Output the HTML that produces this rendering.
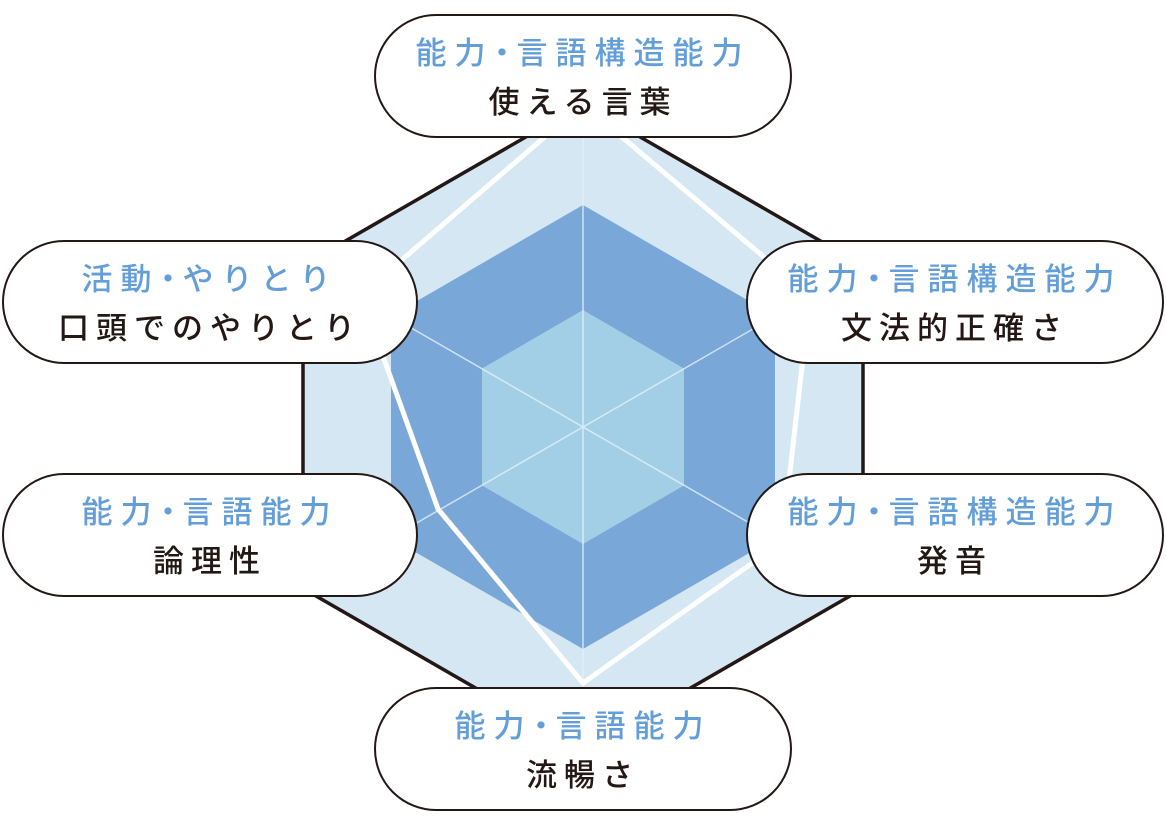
<!DOCTYPE html>
<html><head><meta charset="utf-8"><style>
body{margin:0;width:1166px;height:828px;background:#fff;overflow:hidden;position:relative;font-family:"Liberation Sans","Noto Sans CJK JP",sans-serif}
.p{position:absolute;box-sizing:border-box;border:2px solid #231815;border-radius:62px;background:#fff;text-align:center}
.p .b{position:absolute;left:0;right:0;top:18px;color:#639ed8;font-size:31px;line-height:40px;letter-spacing:8px;font-weight:500}
.p .k{position:absolute;left:0;right:0;top:67px;color:#231815;font-size:31px;line-height:40px;letter-spacing:7px;font-weight:500}
.d{margin:0 -9px 0 -7px}
</style></head><body>
<svg width="1166" height="828" style="position:absolute;left:0;top:0">
<polygon points="583,104 863,265.5 863,588.5 583,750 303,588.5 303,265.5" fill="#d4e7f2" stroke="#231815" stroke-width="3.5"/>
<polygon points="583,205 775,316 775,538 583,649 391,538 391,316" fill="#78a7d8"/>
<polygon points="583,310 684,368.5 684,485.5 583,544 482,485.5 482,368.5" fill="#a3cfe6"/>
<g stroke="#e6f1f8" stroke-width="1.5" opacity="0.8">
<line x1="583" y1="104" x2="583" y2="750"/>
<line x1="303" y1="265.5" x2="863" y2="588.5"/>
<line x1="863" y1="265.5" x2="303" y2="588.5"/>
</g>
<polygon points="583,104 810,296 782,542 583,683 438,509 361,295" fill="none" stroke="#fff" stroke-width="5" stroke-linejoin="miter"/>
</svg>
<div class="p" style="left:374px;top:14px;width:418px;height:124px"><div class="b">能力<span class="d">・</span>言語構造能力</div><div class="k">使える言葉</div></div>
<div class="p" style="left:2px;top:240px;width:416px;height:124px"><div class="b">活動<span class="d">・</span>やりとり</div><div class="k">口頭でのやりとり</div></div>
<div class="p" style="left:746px;top:240px;width:418px;height:124px"><div class="b">能力<span class="d">・</span>言語構造能力</div><div class="k">文法的正確さ</div></div>
<div class="p" style="left:2px;top:473px;width:416px;height:124px"><div class="b">能力<span class="d">・</span>言語能力</div><div class="k">論理性</div></div>
<div class="p" style="left:746px;top:473px;width:418px;height:124px"><div class="b">能力<span class="d">・</span>言語構造能力</div><div class="k">発音</div></div>
<div class="p" style="left:374px;top:687px;width:418px;height:124px"><div class="b">能力<span class="d">・</span>言語能力</div><div class="k">流暢さ</div></div>
</body></html>
